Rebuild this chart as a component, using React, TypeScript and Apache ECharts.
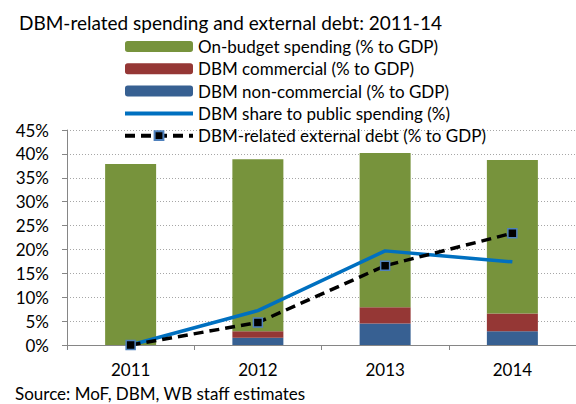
import React, { useEffect, useRef } from "react";
import * as echarts from "echarts";

const years = ["2011", "2012", "2013", "2014"];
const onBudget = [37.9, 36.0, 32.3, 32.1];
const dbmCommercial = [0, 1.4, 3.4, 3.7];
const dbmNonCommercial = [0, 1.5, 4.5, 2.9];
const dbmShare = [0, 7.2, 19.7, 17.4];
const externalDebt = [0, 4.7, 16.6, 23.4];
const yTicks = { min: 0, max: 45, interval: 5 };

const FONT = "Lato, 'Noto Sans', sans-serif";

export default function App() {
  const ref = useRef<HTMLDivElement>(null);
  useEffect(() => {
    document.body.style.margin = "0";
    const chart = echarts.init(ref.current!, null, { renderer: "svg" });
    const names = [
      "On-budget spending (% to GDP)",
      "DBM commercial (% to GDP)",
      "DBM non-commercial (% to GDP)",
      "DBM share to public spending (%)",
      "DBM-related external debt (% to GDP)",
    ];
    chart.setOption({
      animation: false,
      textStyle: { fontFamily: FONT },
      title: {
        text: "DBM-related spending and external debt: 2011-14",
        left: 14,
        top: 8,
        textStyle: { fontFamily: FONT, fontSize: 19, fontWeight: "normal", color: "#000" },
      },
      legend: {
        orient: "vertical",
        left: 118,
        top: 33,
        itemWidth: 68,
        itemHeight: 11,
        itemGap: 5.3,
        data: [
          names[0],
          names[1],
          names[2],
          {
            name: names[3],
            itemStyle: { color: "rgba(0,0,0,0)", borderWidth: 0, opacity: 0 },
            lineStyle: { width: 4 },
          },
          { name: names[4], lineStyle: { width: 4 } },
        ],
        textStyle: { fontFamily: FONT, fontSize: 17, color: "#000", lineHeight: 17 },
      },
      graphic: [
        {
          type: "text",
          left: 15,
          top: 385,
          style: { text: "Source: MoF, DBM, WB staff estimates", fontFamily: FONT, fontSize: 17, fill: "#000" },
        },
      ],
      grid: { left: 67, top: 130, width: 518, height: 215 },
      xAxis: {
        type: "category",
        data: years,
        axisLine: { lineStyle: { color: "#868686", width: 1 } },
        axisTick: { show: true, length: 5, lineStyle: { color: "#868686" } },
        axisLabel: { fontFamily: FONT, fontSize: 17, color: "#000", margin: 16 },
      },
      yAxis: {
        type: "value",
        min: yTicks.min,
        max: yTicks.max,
        interval: yTicks.interval,
        axisLine: { show: true, lineStyle: { color: "#868686", width: 1 } },
        axisTick: { show: true, length: 5, lineStyle: { color: "#868686" } },
        axisLabel: { fontFamily: FONT, fontSize: 17, color: "#000", margin: 18, formatter: "{value}%" },
        splitLine: { show: true, lineStyle: { color: "#a6a6a6", type: [1, 2], width: 1 } },
      },
      series: [
        {
          name: names[2],
          type: "bar",
          stack: "s",
          barWidth: 51,
          data: dbmNonCommercial,
          itemStyle: { color: "#376092" },
        },
        {
          name: names[1],
          type: "bar",
          stack: "s",
          barWidth: 51,
          data: dbmCommercial,
          itemStyle: { color: "#953735" },
        },
        {
          name: names[0],
          type: "bar",
          stack: "s",
          barWidth: 51,
          data: onBudget,
          itemStyle: { color: "#77933c" },
        },
        {
          name: names[3],
          type: "line",
          data: dbmShare,
          symbol: "none",
          showSymbol: false,
          lineStyle: { color: "#0070c0", width: 3.5 },
          itemStyle: { color: "#0070c0" },
          z: 5,
        },
        {
          name: names[4],
          type: "line",
          data: externalDebt,
          symbol: "rect",
          symbolSize: 9,
          showSymbol: true,
          lineStyle: { color: "#000", width: 3.5, type: [10, 6] },
          itemStyle: { color: "#000", borderColor: "#4f81bd", borderWidth: 1.5 },
          z: 6,
        },
      ],
    });
    return () => chart.dispose();
  }, []);
  return <div ref={ref} style={{ width: 576, height: 404 }} />;
}
